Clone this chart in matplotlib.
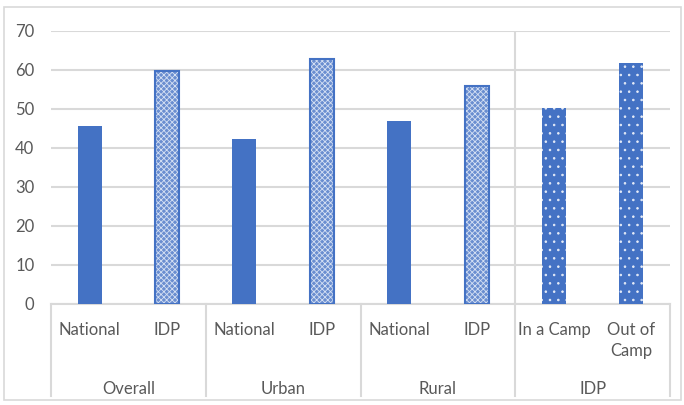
import matplotlib
matplotlib.use('Agg')
import matplotlib.pyplot as plt
from matplotlib.patches import Rectangle

plt.rcParams['font.family'] = ['Lato', 'DejaVu Sans']
plt.rcParams['hatch.linewidth'] = 0.6

categories = ['National', 'IDP', 'National', 'IDP', 'National', 'IDP', 'In a Camp', 'Out of\nCamp']
groups = ['Overall', 'Urban', 'Rural', 'IDP']
values = [45.7, 59.8, 42.4, 62.8, 46.8, 55.8, 50.2, 61.7]
styles = ['solid', 'grid', 'solid', 'grid', 'solid', 'grid', 'dots', 'dots']

blue = '#4472C4'
grey_txt = '#595959'
grid_col = '#d9d9d9'

fig = plt.figure(figsize=(6.84, 4.05), dpi=100)
ax = fig.add_axes([0.0746, 0.2494, 0.905, 0.6741])

x = list(range(len(values)))
w = 0.31
for xi, v, st in zip(x, values, styles):
    if st == 'solid':
        ax.bar(xi, v, w, color=blue, zorder=3)
    elif st == 'grid':
        ax.bar(xi, v, w, color='#6a8ed0', zorder=3)
        ax.bar(xi, v, w, color='none', edgecolor='#d5e0f3', hatch='xxxxxx', linewidth=0, zorder=4)
        ax.bar(xi, v, w, color='none', edgecolor=blue, linewidth=1.5, zorder=5)
    else:
        ax.bar(xi, v, w, color=blue, zorder=3)
        ax.bar(xi, v, w, color='none', edgecolor='#e6ecf8', hatch='..', linewidth=0, zorder=4)

ax.set_xlim(-0.5, len(values) - 0.5)
ax.set_ylim(0, 70)
ax.set_yticks(range(0, 71, 10))
ax.yaxis.grid(True, color=grid_col, linewidth=1.5, zorder=0)
ax.set_axisbelow(True)
for s in ['top', 'right', 'left']:
    ax.spines[s].set_visible(False)
ax.spines['bottom'].set_color(grid_col)
ax.spines['bottom'].set_linewidth(1.5)
ax.tick_params(axis='y', length=0, pad=12, labelsize=12, labelcolor=grey_txt)
ax.tick_params(axis='x', length=0, pad=13, labelsize=12, labelcolor=grey_txt)
ax.set_xticks(x)
ax.set_xticklabels(categories, va='top', linespacing=1.35)

# group separators below the axis
ylow = -23.5
for b in [-0.5, 1.5, 3.5, 5.5, 7.5]:
    ax.plot([b, b], [0, ylow], color=grid_col, lw=1.5, clip_on=False, zorder=1)
ax.plot([5.5, 5.5], [0, 70], color=grid_col, lw=1.5, zorder=1)

for i, g in enumerate(groups):
    ax.text(2 * i + 0.5, -21.8, g, ha='center', va='center', fontsize=12, color=grey_txt)

fig.patches.append(Rectangle((3.5 / 684, 5 / 405), 677 / 684, 393 / 405, transform=fig.transFigure,
                             fill=False, edgecolor=grid_col, linewidth=1.2))

fig.savefig('out.png', dpi=100)
